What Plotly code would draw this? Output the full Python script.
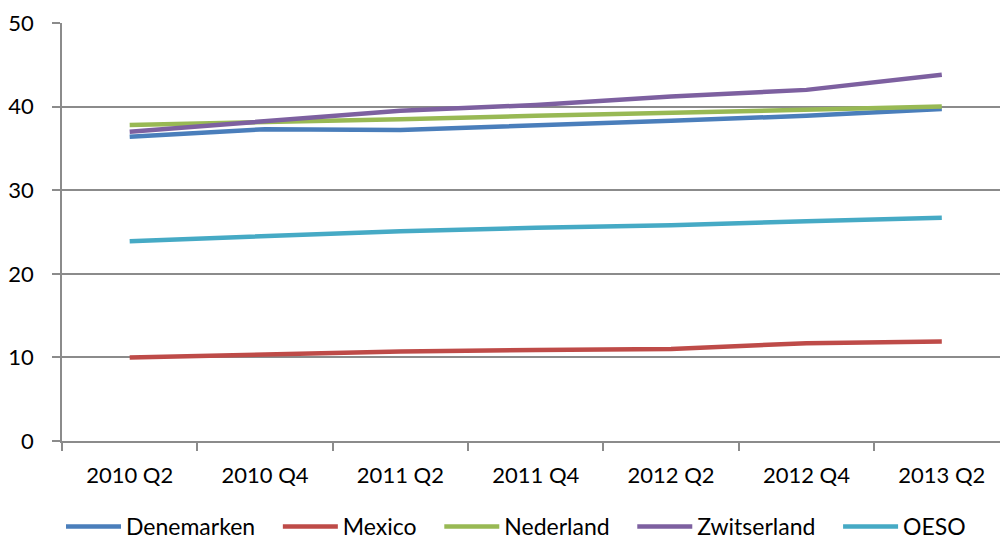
import plotly.graph_objects as go

quarters = ["2010 Q2", "2010 Q4", "2011 Q2", "2011 Q4", "2012 Q2", "2012 Q4", "2013 Q2"]

denemarken = [36.4, 37.3, 37.2, 37.7, 38.3, 38.9, 39.7]
mexico = [10.0, 10.4, 10.7, 10.9, 11.0, 11.7, 11.9]
nederland = [37.8, 38.1, 38.5, 38.9, 39.3, 39.7, 40.0]
zwitserland = [37.0, 38.2, 39.5, 40.2, 41.2, 42.0, 43.8]
oeso = [23.9, 24.5, 25.1, 25.5, 25.8, 26.3, 26.7]

series = [
    ("Denemarken", denemarken, "#4a7ebb"),
    ("Mexico", mexico, "#be4b48"),
    ("Nederland", nederland, "#98b954"),
    ("Zwitserland", zwitserland, "#7d60a0"),
    ("OESO", oeso, "#46aac5"),
]

fig = go.Figure()

for name, values, color in series:
    fig.add_trace(go.Scatter(
        x=quarters,
        y=values,
        name=name + "\u00a0\u00a0\u00a0",
        mode="lines",
        line=dict(color=color, width=4.5)
    ))

# figure is a little taller than the window: the legend box padding
# falls below the visible area so the legend text sits lower
fig.update_layout(
    width=1000,
    height=548,
    plot_bgcolor="white",
    paper_bgcolor="white",
    margin=dict(l=62, r=0, t=23, b=107),
    font=dict(family="Lato", size=22, color="#000000"),
    showlegend=True,
    legend=dict(
        orientation="h",
        xref="container",
        yref="container",
        x=0.061,
        y=0.0,
        xanchor="left",
        yanchor="bottom",
        font=dict(size=23),
        itemwidth=55
    ),
    xaxis=dict(
        type="category",
        range=[-0.5, 6.43],
        automargin=False,
        showgrid=False,
        showline=True,
        linecolor="#8b8b8b",
        linewidth=1.5,
        ticks="outside",
        tickson="boundaries",
        ticklen=8,
        tickcolor="#8b8b8b",
        tickwidth=1.5,
        ticklabelstandoff=14
    ),
    yaxis=dict(
        range=[0, 50],
        dtick=10,
        automargin=False,
        showgrid=True,
        gridcolor="#8b8b8b",
        gridwidth=1.5,
        showline=True,
        linecolor="#8b8b8b",
        linewidth=1.5,
        ticks="outside",
        ticklen=8,
        tickcolor="#8b8b8b",
        tickwidth=1.5,
        ticklabelstandoff=14,
        zeroline=False
    )
)

# drop the default body margin and any scrollbars
fig.write_html(
    "out.html",
    config={"displayModeBar": False},
    post_script="document.body.style.margin='0';document.body.style.overflow='hidden';"
)
